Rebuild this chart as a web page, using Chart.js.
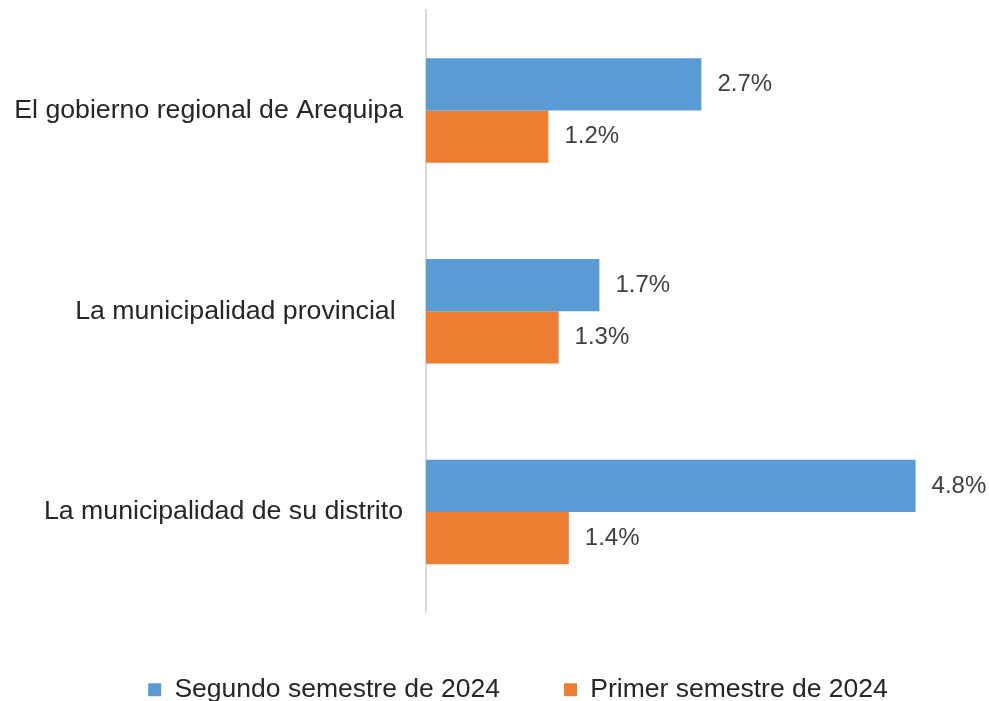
<!DOCTYPE html>
<html>
<head>
<meta charset="utf-8">
<script src="https://cdn.jsdelivr.net/npm/chart.js@4"></script>
<style>
  html, body { margin: 0; padding: 0; background: #fff; }
  #wrap { width: 989px; height: 701px; }
</style>
</head>
<body>
<div id="wrap"><canvas id="chart" width="989" height="701"></canvas></div>
<script>
const categories = ['El gobierno regional de Arequipa', 'La municipalidad provincial ', 'La municipalidad de su distrito'];
const segundoSemestre = [2.7, 1.7, 4.8];
const primerSemestre = [1.2, 1.3, 1.4];
const seriesNames = ['Segundo semestre de 2024', 'Primer semestre de 2024'];

const FONT = '"Liberation Sans", Arial, sans-serif';

const valueLabels = {
    id: 'valueLabels',
    afterDatasetsDraw(chart) {
        const ctx = chart.ctx;
        ctx.save();
        ctx.font = '24px ' + FONT;
        ctx.fillStyle = '#404040';
        ctx.textAlign = 'left';
        ctx.textBaseline = 'middle';
        chart.data.datasets.forEach(function (ds, i) {
            chart.getDatasetMeta(i).data.forEach(function (bar, j) {
                ctx.fillText(ds.data[j].toFixed(1) + '%', bar.x + 16, bar.y);
            });
        });
        ctx.restore();
    }
};

new Chart(document.getElementById('chart'), {
    type: 'bar',
    data: {
        labels: categories,
        datasets: [
            {
                label: seriesNames[0],
                data: segundoSemestre,
                backgroundColor: '#5b9bd5',
            },
            {
                label: seriesNames[1],
                data: primerSemestre,
                backgroundColor: '#ed7d31',
            },
        ],
    },
    options: {
        indexAxis: 'y',
        responsive: false,
        animation: false,
        categoryPercentage: 0.52,
        barPercentage: 1,
        layout: {
            padding: { top: 10, right: -47, left: 0, bottom: -12 },
        },
        plugins: {
            legend: {
                display: true,
                position: 'bottom',
                labels: {
                    color: '#262626',
                    font: { size: 26.5, family: FONT },
                    boxWidth: 13,
                    boxHeight: 13,
                    padding: 64,
                },
            },
            tooltip: { enabled: false },
        },
        scales: {
            x: {
                min: 0,
                max: 5.52,
                display: false,
            },
            y: {
                afterFit: function (scale) {
                    scale.width = 426;
                    scale.paddingTop = 0;
                    scale.paddingBottom = 0;
                },
                grid: { display: false, drawTicks: false },
                border: { display: true, color: '#d9d9d9', width: 2 },
                ticks: {
                    color: '#262626',
                    padding: 23,
                    font: { size: 26.7, family: FONT },
                },
            },
        },
    },
    plugins: [valueLabels],
});
</script>
</body>
</html>
